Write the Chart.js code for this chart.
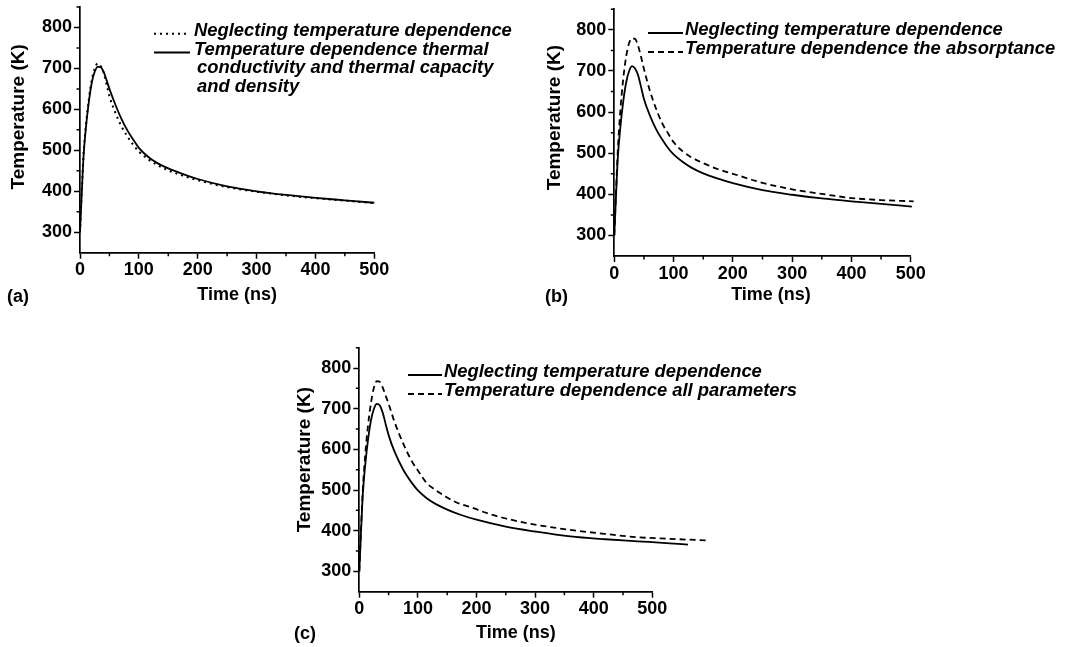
<!DOCTYPE html>
<html><head><meta charset="utf-8">
<script src="https://cdn.jsdelivr.net/npm/chart.js@4.4.1/dist/chart.umd.min.js"></script>
<style>
html,body{margin:0;padding:0;background:#fff;width:1066px;height:647px;overflow:hidden;position:relative}
canvas{position:absolute}
.lab{position:absolute;font:bold 18px "Liberation Sans",Arial,sans-serif;color:#000;line-height:18px;white-space:nowrap}
</style></head><body>
<canvas id="ca" width="533" height="320" style="left:0;top:0"></canvas>
<canvas id="cb" width="533" height="320" style="left:533px;top:0"></canvas>
<canvas id="cc" width="530" height="327" style="left:270px;top:320px"></canvas>
<div class="lab" style="left:7px;top:287px">(a)</div>
<div class="lab" style="left:545px;top:287px">(b)</div>
<div class="lab" style="left:294px;top:624px">(c)</div>
<script>
// ---------- data ----------
const xTickValues = [0, 100, 200, 300, 400, 500];
const yTickValues = [300, 400, 500, 600, 700, 800];
const xMinorValues = [50, 150, 250, 350, 450];
const yMinorValues = [350, 450, 550, 650, 750, 850];
const xTitle = 'Time (ns)';
const yTitle = 'Temperature (K)';

// panel (a)
const timeA = [0,3,6,10,15,20,25,30,35,40,45,50,60,70,80,90,100,115,130,150,175,200,250,300,350,400,450,500];
const neglectA = [300,400,490,560,625,672,700,712,706,690,662,632,592,560,535,514,497,479,465,451,438,427,410,399,390,383,377,371];
const thermalA = [300,395,485,555,618,665,692,704,703,692,672,650,612,578,550,527,506,485,470,456,442,430,412,400,391,384,378,372];
const labelNeglect = 'Neglecting temperature dependence';
const labelThermal = ['Temperature dependence thermal', 'conductivity and thermal capacity', 'and density'];

// panel (b)
const timeB = [0,3,6,10,15,20,25,30,35,40,45,50,60,70,80,90,100,115,130,150,175,200,250,300,350,400,450,502];
const neglectB = [300,400,490,560,625,672,700,712,706,690,662,632,592,560,535,514,497,479,465,451,438,427,410,399,390,383,377,370];
const timeB2 = [0,3,6,10,15,20,25,30,35,40,45,50,60,70,80,90,100,115,130,150,175,200,250,300,350,400,450,505];
const absorpB = [300,410,510,600,680,735,768,779,778,762,735,705,652,610,575,550,527,505,490,476,461,450,428,412,401,391,386,383];
const labelAbsorp = 'Temperature dependence the absorptance';

// panel (c)
const timeC = [0,3,6,10,15,20,25,30,35,40,45,50,60,75,90,100,115,130,150,175,200,250,300,360,420,475,530,561];
const neglectC = [300,400,490,560,625,672,700,712,708,690,662,635,595,550,517,499,480,466,452,438,427,410,398,386,379,374,369,366];
const timeC2 = [0,3,6,10,15,20,25,30,35,40,45,50,60,75,90,100,115,130,145,165,190,220,250,300,360,420,475,530,595];
const allC = [300,405,500,585,660,715,752,768,766,752,732,712,668,614,570,548,517,500,486,470,458,442,430,415,402,392,384,380,376];
const labelAll = 'Temperature dependence all parameters';

// ---------- helpers ----------
const FONT = '"Liberation Sans", Arial, sans-serif';
const pts = (xs, ys) => xs.map((x, i) => ({x, y: ys[i]}));

const paperLegend = {
  id: 'paperLegend',
  afterDraw(chart, args, o) {
    if (!o || !o.x) return;
    const ctx = chart.ctx;
    ctx.save();
    ctx.font = 'italic bold 18.4px ' + FONT;
    ctx.fillStyle = '#000';
    ctx.strokeStyle = '#000';
    ctx.textBaseline = 'middle';
    ctx.textAlign = 'left';
    let y = o.y;
    o.order.forEach(idx => {
      const ds = chart.data.datasets[idx];
      const lines = Array.isArray(ds.label) ? ds.label : [ds.label];
      ctx.setLineDash(ds.borderDash || []);
      ctx.lineWidth = ds.borderWidth;
      ctx.beginPath();
      ctx.moveTo(o.sx0, y + 3);
      ctx.lineTo(o.sx1, y + 3);
      ctx.stroke();
      ctx.setLineDash([]);
      lines.forEach((t, k) => {
        ctx.fillText(t, o.x + (k ? 3 : 0), y);
        y += o.lh;
      });
    });
    ctx.restore();
  }
};

const minorTicks = {
  id: 'minorTicks',
  afterDraw(chart) {
    const ctx = chart.ctx;
    const xs = chart.scales.x, ys = chart.scales.y;
    const a = chart.chartArea;
    ctx.save();
    ctx.strokeStyle = '#000';
    ctx.lineWidth = 1.5;
    ctx.beginPath();
    xMinorValues.forEach(v => {
      const px = xs.getPixelForValue(v);
      ctx.moveTo(px, a.bottom); ctx.lineTo(px, a.bottom + 3.5);
    });
    yMinorValues.forEach(v => {
      const py = ys.getPixelForValue(v);
      ctx.moveTo(a.left, py); ctx.lineTo(a.left - 3.5, py);
    });
    ctx.stroke();
    ctx.restore();
  }
};

// axis titles, drawn from the scales' own title text, placed like the original figure
const axisTitles = {
  id: 'axisTitles',
  afterDraw(chart, args, o) {
    const ctx = chart.ctx;
    const a = chart.chartArea;
    ctx.save();
    ctx.fillStyle = '#000';
    ctx.textAlign = 'center';
    ctx.textBaseline = 'middle';
    ctx.font = 'bold 18px ' + FONT;
    ctx.fillText(chart.scales.x.options.title.text, (a.left + a.right) / 2 + o.dx, o.xy);
    ctx.font = 'bold 19px ' + FONT;
    ctx.translate(o.yx, (a.top + a.bottom) / 2 + o.dy);
    ctx.rotate(-Math.PI / 2);
    ctx.fillText(chart.scales.y.options.title.text, 0, 0);
    ctx.restore();
  }
};

function makeChart(id, datasets, L) {
  return new Chart(document.getElementById(id), {
    type: 'line',
    data: {datasets},
    plugins: [paperLegend, minorTicks, axisTitles],
    options: {
      responsive: false,
      animation: false,
      clip: false,
      layout: {padding: {left: L.pl, top: L.pt, right: L.pr, bottom: L.pb}},
      elements: {point: {radius: 0}, line: {capBezierPoints: false, cubicInterpolationMode: 'monotone'}},
      plugins: {
        legend: {display: false},
        tooltip: {enabled: false},
        paperLegend: L.legend,
        axisTitles: L.titles
      },
      scales: {
        x: {
          type: 'linear', bounds: 'data',
          afterDataLimits: s => { s.min = 0; s.max = 500; },
          afterFit: s => { s.height = L.xh; s.paddingLeft = 0; s.paddingRight = 0; },
          afterBuildTicks: s => { s.ticks = xTickValues.map(v => ({value: v})); },
          border: {display: true, color: '#000', width: 1.7},
          grid: {drawOnChartArea: false, drawTicks: true, tickLength: 6, tickColor: '#000', tickWidth: 1.5},
          ticks: {color: '#000', padding: 1, maxRotation: 0, font: {family: FONT, size: 18, weight: 'bold'}},
          title: {display: false, text: xTitle}
        },
        y: {
          type: 'linear', min: 250, max: 850,
          afterFit: s => { s.width = L.yw; s.paddingTop = 0; s.paddingBottom = 0; },
          afterBuildTicks: s => { s.ticks = yTickValues.map(v => ({value: v})); },
          border: {display: true, color: '#000', width: 1.7},
          grid: {drawOnChartArea: false, drawTicks: true, tickLength: 6, tickColor: '#000', tickWidth: 1.5},
          ticks: {color: '#000', padding: 2, font: {family: FONT, size: 18, weight: 'bold'}},
          title: {display: false, text: yTitle}
        }
      }
    }
  });
}

const solid = (label, data) => ({label, data, borderColor: '#000', borderWidth: 1.8, borderDash: [], fill: false, clip: false});
const dashed = (label, data) => ({label, data, borderColor: '#000', borderWidth: 1.8, borderDash: [6, 4], fill: false, clip: false});
const dotted = (label, data) => ({label, data, borderColor: '#000', borderWidth: 2, borderDash: [2, 4], fill: false, clip: false});

makeChart('ca', [
  dotted(labelNeglect, pts(timeA, neglectA)),
  solid(labelThermal, pts(timeA, thermalA))
], {pl: 5, pt: 7, pr: 158.7, pb: 10, yw: 75, xh: 57.3,
    titles: {dx: 10, xy: 295, yx: 19, dy: -13},
    legend: {x: 194, y: 30.7, lh: 18.8, sx0: 154, sx1: 190, order: [0, 1]}});

makeChart('cb', [
  solid(labelNeglect, pts(timeB, neglectB)),
  dashed(labelAbsorp, pts(timeB2, absorpB))
], {pl: 7, pt: 9.3, pr: 155.3, pb: 10, yw: 74.3, xh: 54,
    titles: {dx: 8.5, xy: 295, yx: 22, dy: -15},
    legend: {x: 152, y: 30, lh: 19, sx0: 115, sx1: 150, order: [0, 1]}});

makeChart('cc', [
  solid(labelNeglect, pts(timeC, neglectC)),
  dashed(labelAll, pts(timeC2, allC))
], {pl: 19.6, pt: 27.7, pr: 147.7, pb: 0, yw: 69.7, xh: 55.3,
    titles: {dx: 10, xy: 313, yx: 35, dy: -10},
    legend: {x: 174, y: 52, lh: 19, sx0: 138, sx1: 172, order: [0, 1]}});
</script>
</body></html>
